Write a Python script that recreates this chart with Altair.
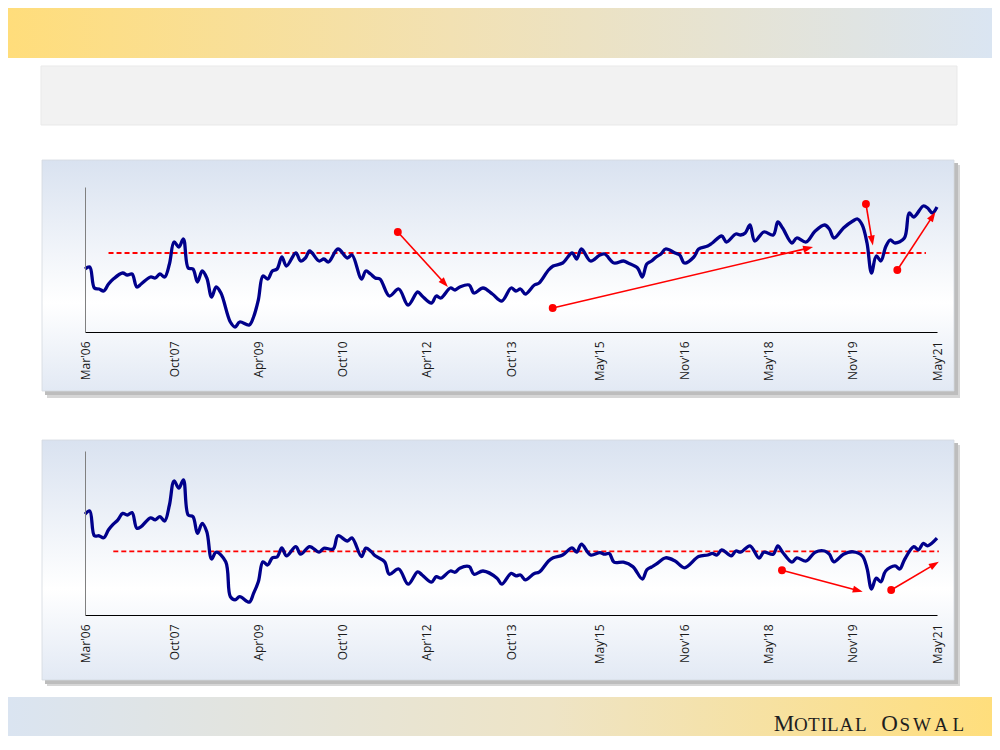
import math
import pandas as pd
import altair as alt

# ---------------- data ----------------
X_TICKS = ["2006-03", "2007-10", "2009-04", "2010-10", "2012-04", "2013-10",
           "2015-05", "2016-11", "2018-05", "2019-11", "2021-05"]

PE_MONTHS = ["2006-03", "2006-04", "2006-05", "2006-06", "2006-07", "2006-08", "2006-09", "2006-11",
             "2006-12", "2007-01", "2007-02", "2007-03", "2007-05", "2007-06", "2007-07", "2007-08",
             "2007-09", "2007-10", "2007-11", "2007-12", "2008-01", "2008-02", "2008-03", "2008-04",
             "2008-05", "2008-06", "2008-07", "2008-08", "2008-10", "2008-11", "2008-12", "2009-02",
             "2009-03", "2009-04", "2009-05", "2009-06", "2009-07", "2009-08", "2009-09", "2009-10",
             "2009-12", "2010-01", "2010-02", "2010-03", "2010-05", "2010-06", "2010-07", "2010-09",
             "2010-11", "2010-12", "2011-02", "2011-03", "2011-04", "2011-05", "2011-06", "2011-08",
             "2011-10", "2011-12", "2012-02", "2012-03", "2012-05", "2012-06", "2012-07", "2012-09",
             "2012-10", "2012-11", "2013-01", "2013-02", "2013-04", "2013-06", "2013-08", "2013-10",
             "2013-11", "2013-12", "2014-01", "2014-03", "2014-04", "2014-06", "2014-07", "2014-09",
             "2014-11", "2014-12", "2015-01", "2015-03", "2015-05", "2015-06", "2015-08", "2015-10",
             "2015-11", "2016-01", "2016-02", "2016-03", "2016-04", "2016-05", "2016-06", "2016-07",
             "2016-09", "2016-10", "2016-11", "2017-01", "2017-02", "2017-04", "2017-05", "2017-07",
             "2017-08", "2017-10", "2017-11", "2017-12", "2018-01", "2018-02", "2018-04", "2018-06",
             "2018-07", "2018-08", "2018-10", "2018-11", "2019-01", "2019-03", "2019-05", "2019-06",
             "2019-07", "2019-09", "2019-11", "2019-12", "2020-01", "2020-02", "2020-03", "2020-04",
             "2020-05", "2020-06", "2020-07", "2020-08", "2020-10", "2020-11", "2020-12", "2021-02",
             "2021-03", "2021-04", "2021-05"]
PE_VALUES = [16.3, 16.5, 14.4, 14.3, 14.1, 14.8, 15.3, 15.9,
             15.7, 15.8, 14.5, 14.8, 15.5, 15.4, 15.8, 15.5,
             16.8, 19.0, 18.5, 19.3, 16.4, 16.3, 15.0, 16.1,
             15.4, 13.5, 14.5, 13.9, 11.0, 10.5, 11.0, 10.7,
             11.5, 13.2, 15.6, 15.3, 16.1, 16.3, 17.5, 16.6,
             17.9, 17.1, 17.4, 18.1, 17.1, 17.3, 17.0, 18.3,
             17.4, 17.7, 15.3, 16.1, 15.8, 15.4, 15.3, 13.6,
             14.3, 12.7, 14.0, 13.6, 12.9, 13.6, 13.4, 14.4,
             14.2, 14.5, 14.7, 13.9, 14.4, 13.8, 13.1, 14.4,
             14.1, 14.3, 13.8, 14.7, 14.9, 16.2, 16.6, 16.9,
             17.9, 17.3, 18.3, 17.1, 17.7, 17.8, 16.9, 17.1,
             16.9, 16.4, 15.5, 16.8, 17.1, 17.5, 17.8, 18.3,
             17.9, 17.7, 16.9, 17.5, 18.3, 18.6, 18.9, 19.6,
             19.0, 19.8, 19.7, 19.9, 20.7, 19.1, 20.0, 19.7,
             21.0, 20.4, 18.9, 19.4, 19.0, 20.1, 20.7, 20.3,
             19.4, 20.4, 21.1, 21.3, 20.7, 18.9, 15.9, 17.6,
             17.1, 18.5, 19.2, 18.9, 19.4, 21.9, 21.5, 22.6,
             22.4, 21.9, 22.5]
PE_AVG = 17.9
PE_AVG_SPAN = ["2006-08-01", "2021-02-18"]
PE_ARROWS = [("2011-09-25", 20.0, "2012-08-16", 14.5),
             ("2014-06-28", 12.4, "2019-02-15", 18.5),
             ("2020-01-25", 22.8, "2020-03-10", 18.65),
             ("2020-08-16", 16.2, "2021-04-21", 22.0)]

PB_MONTHS = ["2006-03", "2006-04", "2006-05", "2006-06", "2006-07", "2006-08", "2006-09", "2006-10",
             "2006-11", "2006-12", "2007-01", "2007-02", "2007-03", "2007-05", "2007-06", "2007-07",
             "2007-08", "2007-09", "2007-10", "2007-11", "2007-12", "2008-01", "2008-02", "2008-03",
             "2008-04", "2008-05", "2008-06", "2008-07", "2008-09", "2008-10", "2008-11", "2008-12",
             "2009-02", "2009-03", "2009-04", "2009-05", "2009-06", "2009-07", "2009-08", "2009-09",
             "2009-10", "2009-12", "2010-01", "2010-03", "2010-05", "2010-06", "2010-08", "2010-09",
             "2010-11", "2010-12", "2011-02", "2011-03", "2011-04", "2011-05", "2011-07", "2011-08",
             "2011-10", "2011-12", "2012-02", "2012-03", "2012-05", "2012-06", "2012-07", "2012-09",
             "2012-10", "2012-11", "2013-01", "2013-02", "2013-04", "2013-07", "2013-08", "2013-10",
             "2013-11", "2013-12", "2014-01", "2014-03", "2014-04", "2014-06", "2014-07", "2014-09",
             "2014-11", "2014-12", "2015-01", "2015-03", "2015-05", "2015-06", "2015-07", "2015-08",
             "2015-10", "2015-12", "2016-02", "2016-03", "2016-04", "2016-05", "2016-07", "2016-09",
             "2016-11", "2017-02", "2017-04", "2017-05", "2017-06", "2017-07", "2017-09", "2017-10",
             "2017-11", "2018-01", "2018-03", "2018-04", "2018-06", "2018-07", "2018-08", "2018-10",
             "2018-11", "2019-01", "2019-03", "2019-05", "2019-06", "2019-07", "2019-09", "2019-11",
             "2020-01", "2020-02", "2020-03", "2020-04", "2020-05", "2020-06", "2020-08", "2020-09",
             "2020-10", "2020-12", "2021-01", "2021-02", "2021-03", "2021-05"]
PB_VALUES = [4.12, 4.20, 3.58, 3.58, 3.53, 3.73, 3.87, 3.98,
             4.14, 4.10, 4.16, 3.77, 3.81, 4.03, 3.98, 4.06,
             3.95, 4.35, 4.95, 4.77, 4.98, 4.10, 4.06, 3.64,
             3.89, 3.68, 3.00, 3.17, 2.93, 2.06, 1.98, 2.06,
             1.92, 2.14, 2.43, 2.93, 2.85, 3.03, 3.05, 3.28,
             3.08, 3.31, 3.12, 3.31, 3.17, 3.27, 3.25, 3.58,
             3.45, 3.53, 3.06, 3.27, 3.20, 3.08, 2.93, 2.62,
             2.75, 2.37, 2.68, 2.60, 2.42, 2.56, 2.52, 2.70,
             2.67, 2.77, 2.81, 2.62, 2.70, 2.52, 2.37, 2.64,
             2.58, 2.60, 2.48, 2.64, 2.67, 2.95, 3.03, 3.10,
             3.28, 3.17, 3.37, 3.10, 3.16, 3.12, 3.14, 2.92,
             2.92, 2.81, 2.50, 2.73, 2.80, 2.87, 3.03, 2.95,
             2.78, 3.06, 3.10, 3.14, 3.10, 3.23, 3.08, 3.20,
             3.17, 3.33, 3.02, 3.17, 3.12, 3.33, 3.17, 2.92,
             3.03, 2.95, 3.17, 3.20, 3.12, 2.93, 3.12, 3.18,
             3.08, 2.77, 2.25, 2.52, 2.43, 2.70, 2.83, 2.75,
             2.98, 3.31, 3.23, 3.39, 3.33, 3.52]
PB_AVG = 3.19
PB_AVG_SPAN = ["2006-09-01", "2021-05-13"]
PB_ARROWS = [("2018-07-28", 2.72, "2020-01-04", 2.18),
             ("2020-07-07", 2.225, "2021-05-13", 2.93)]

LOGO_TEXT = "MOTILAL OSWAL"

# ---------------- layout / style ----------------
PLOT_W = 852
PE_H, PB_H = 145, 164
PE_DOM, PB_DOM = [10, 24.5], [1.6, 5.7]
X_START, X_END = "2006-03-01", "2021-05-01"
PXD = PLOT_W / (pd.Timestamp(X_END) - pd.Timestamp(X_START)).days
HEAD_LEN = 10
LINE_BLUE = "#00008B"
RED = "#FF0000"
ONE = pd.DataFrame({"k": [0]})
# letter centres (relative to the lower panel's plot origin) for the small-caps logo
LOGO_X = [699, 715.8, 728.7, 738.8, 747.8, 761.3, 775.8, None, 804.5, 819.7, 837, 856.2, 873.3]
LOGO_BIG_IDX = {0, 8}


def dt(s):
    t = pd.Timestamp(s)
    return alt.DateTime(year=t.year, month=t.month, date=t.day)


def grad(stops, vertical=False):
    return alt.LinearGradient(
        gradient="linear",
        stops=[alt.GradientStop(color=c, offset=o) for o, c in stops],
        x1=0, y1=0, x2=0 if vertical else 1, y2=1 if vertical else 0)


def box(x, x2, y, y2, **mk):
    return alt.Chart(ONE).mark_rect(clip=False, **mk).encode(
        x=alt.value(x), x2=alt.value(x2), y=alt.value(y), y2=alt.value(y2))


def letter(text, x, y, size):
    return alt.Chart(ONE).mark_text(
        text=text, align="center", baseline="alphabetic", font="Liberation Serif",
        fontSize=size, color="#1E1E1E").encode(x=alt.value(x), y=alt.value(y))


def panel(months, values, avg, span, arrows, ydom, height, decor_back, decor_front):
    pyu = height / (ydom[1] - ydom[0])
    xs = alt.Scale(domain=[dt(X_START), dt(X_END)], nice=False)
    ys = alt.Scale(domain=ydom, nice=False, zero=False)
    xaxis = alt.Axis(values=[dt(v + "-01") for v in X_TICKS], format="%b'%y",
                     labelAngle=270, labelFlush=False, labelOverlap=False,
                     ticks=False, tickSize=0, grid=False, title=None,
                     labelPadding=9, labelFont="Open Sans", labelFontSize=12,
                     labelColor="#1A1A1A", domainColor="#000000", domainWidth=1.2,
                     zindex=1)
    yaxis = alt.Axis(labels=False, ticks=False, grid=False, title=None,
                     domainColor="#808080", domainWidth=1, zindex=1)

    df = pd.DataFrame({"date": pd.to_datetime(months), "v": values})
    line = alt.Chart(df).mark_line(
        color=LINE_BLUE, strokeWidth=3.3, interpolate="catmull-rom").encode(
        x=alt.X("date:T", scale=xs, axis=xaxis),
        y=alt.Y("v:Q", scale=ys, axis=yaxis))

    avg_df = pd.DataFrame({"x": [pd.Timestamp(span[0])], "x2": [pd.Timestamp(span[1])],
                           "y": [avg]})
    avg_rule = alt.Chart(avg_df).mark_rule(
        color=RED, strokeWidth=1.8, strokeDash=[5, 3], clip=False).encode(
        x=alt.X("x:T", scale=xs), x2="x2:T", y=alt.Y("y:Q", scale=ys))

    lines, heads, dots = [], [], []
    for d0, v0, d1, v1 in arrows:
        t0, t1 = pd.Timestamp(d0), pd.Timestamp(d1)
        dx = (t1 - t0).total_seconds() / 86400 * PXD
        dy = -(v1 - v0) * pyu
        ln = math.hypot(dx, dy)
        ux, uy = dx / ln, dy / ln
        back = HEAD_LEN / 2
        tc = t1 - pd.Timedelta(days=ux * back / PXD)
        vc = v1 + uy * back / pyu
        ang = math.degrees(math.atan2(dx, -dy)) % 360
        lines.append({"x": t0, "y": v0, "x2": tc, "y2": vc})
        heads.append({"x": tc, "y": vc, "ang": ang})
        dots.append({"x": t0, "y": v0})

    a_lines = alt.Chart(pd.DataFrame(lines)).mark_rule(
        color=RED, strokeWidth=1.6, clip=False).encode(
        x=alt.X("x:T", scale=xs), x2="x2:T",
        y=alt.Y("y:Q", scale=ys), y2="y2:Q")
    a_heads = alt.Chart(pd.DataFrame(heads)).mark_point(
        shape="M0,-1L0.7,1L-0.7,1Z", filled=True, color=RED, opacity=1,
        size=HEAD_LEN * HEAD_LEN, clip=False).encode(
        x=alt.X("x:T", scale=xs), y=alt.Y("y:Q", scale=ys),
        angle=alt.Angle("ang:Q", scale=None))
    a_dots = alt.Chart(pd.DataFrame(dots)).mark_circle(
        color=RED, opacity=1, size=62, clip=False).encode(
        x=alt.X("x:T", scale=xs), y=alt.Y("y:Q", scale=ys))

    return alt.layer(*decor_back, avg_rule, line, a_lines, a_heads, a_dots,
                     *decor_front).properties(width=PLOT_W, height=height)


PANEL_GRAD = grad([(0, "#D9E2F0"), (0.62, "#FFFFFF"), (1, "#E2E9F4")], vertical=True)
HEADER_GRAD = grad([(0, "#FFDD7B"), (0.45, "#F2E1B3"), (1, "#DAE5F2")])
FOOTER_GRAD = grad([(0, "#DAE4F1"), (0.55, "#EEE4C6"), (1, "#FFDE7C")])

# panel 1 plot origin sits at chart (77,179); panel 2 at chart (77,443); chart is 984 x 728
pe_back = [
    box(-77, 907, -179, -129, fill=HEADER_GRAD),
    box(-44, 872, -121, -62, fill="#F2F2F2", stroke="#E9E9E9", strokeWidth=1),
    box(-38, 875, -22, 211, fill="#D6D6D6"),
    box(-40, 873, -24, 208, fill="#BDBDBD"),
    box(-43, 869, -27, 204, fill=PANEL_GRAD, stroke="#D4D9E0", strokeWidth=0.8),
]
pb_back = [
    box(-38, 875, -6, 235, fill="#D6D6D6"),
    box(-40, 873, -8, 233, fill="#BDBDBD"),
    box(-43, 869, -11, 229, fill=PANEL_GRAD, stroke="#D4D9E0", strokeWidth=0.8),
    box(-77, 907, 246, 285, fill=FOOTER_GRAD),
]
pb_front = [
    letter(ch, LOGO_X[i], 280, 23 if i in LOGO_BIG_IDX else 19)
    for i, ch in enumerate(LOGO_TEXT) if ch != " "
]

p1 = panel(PE_MONTHS, PE_VALUES, PE_AVG, PE_AVG_SPAN, PE_ARROWS, PE_DOM, PE_H, pe_back, [])
p2 = panel(PB_MONTHS, PB_VALUES, PB_AVG, PB_AVG_SPAN, PB_ARROWS, PB_DOM, PB_H, pb_back, pb_front)

chart = alt.vconcat(p1, p2, spacing=119, bounds="flush").resolve_scale(
    x="independent", y="independent").properties(
    padding=0, background="white").configure_view(stroke=None)

chart.save("out.html", embed_options={"renderer": "svg", "actions": False})
